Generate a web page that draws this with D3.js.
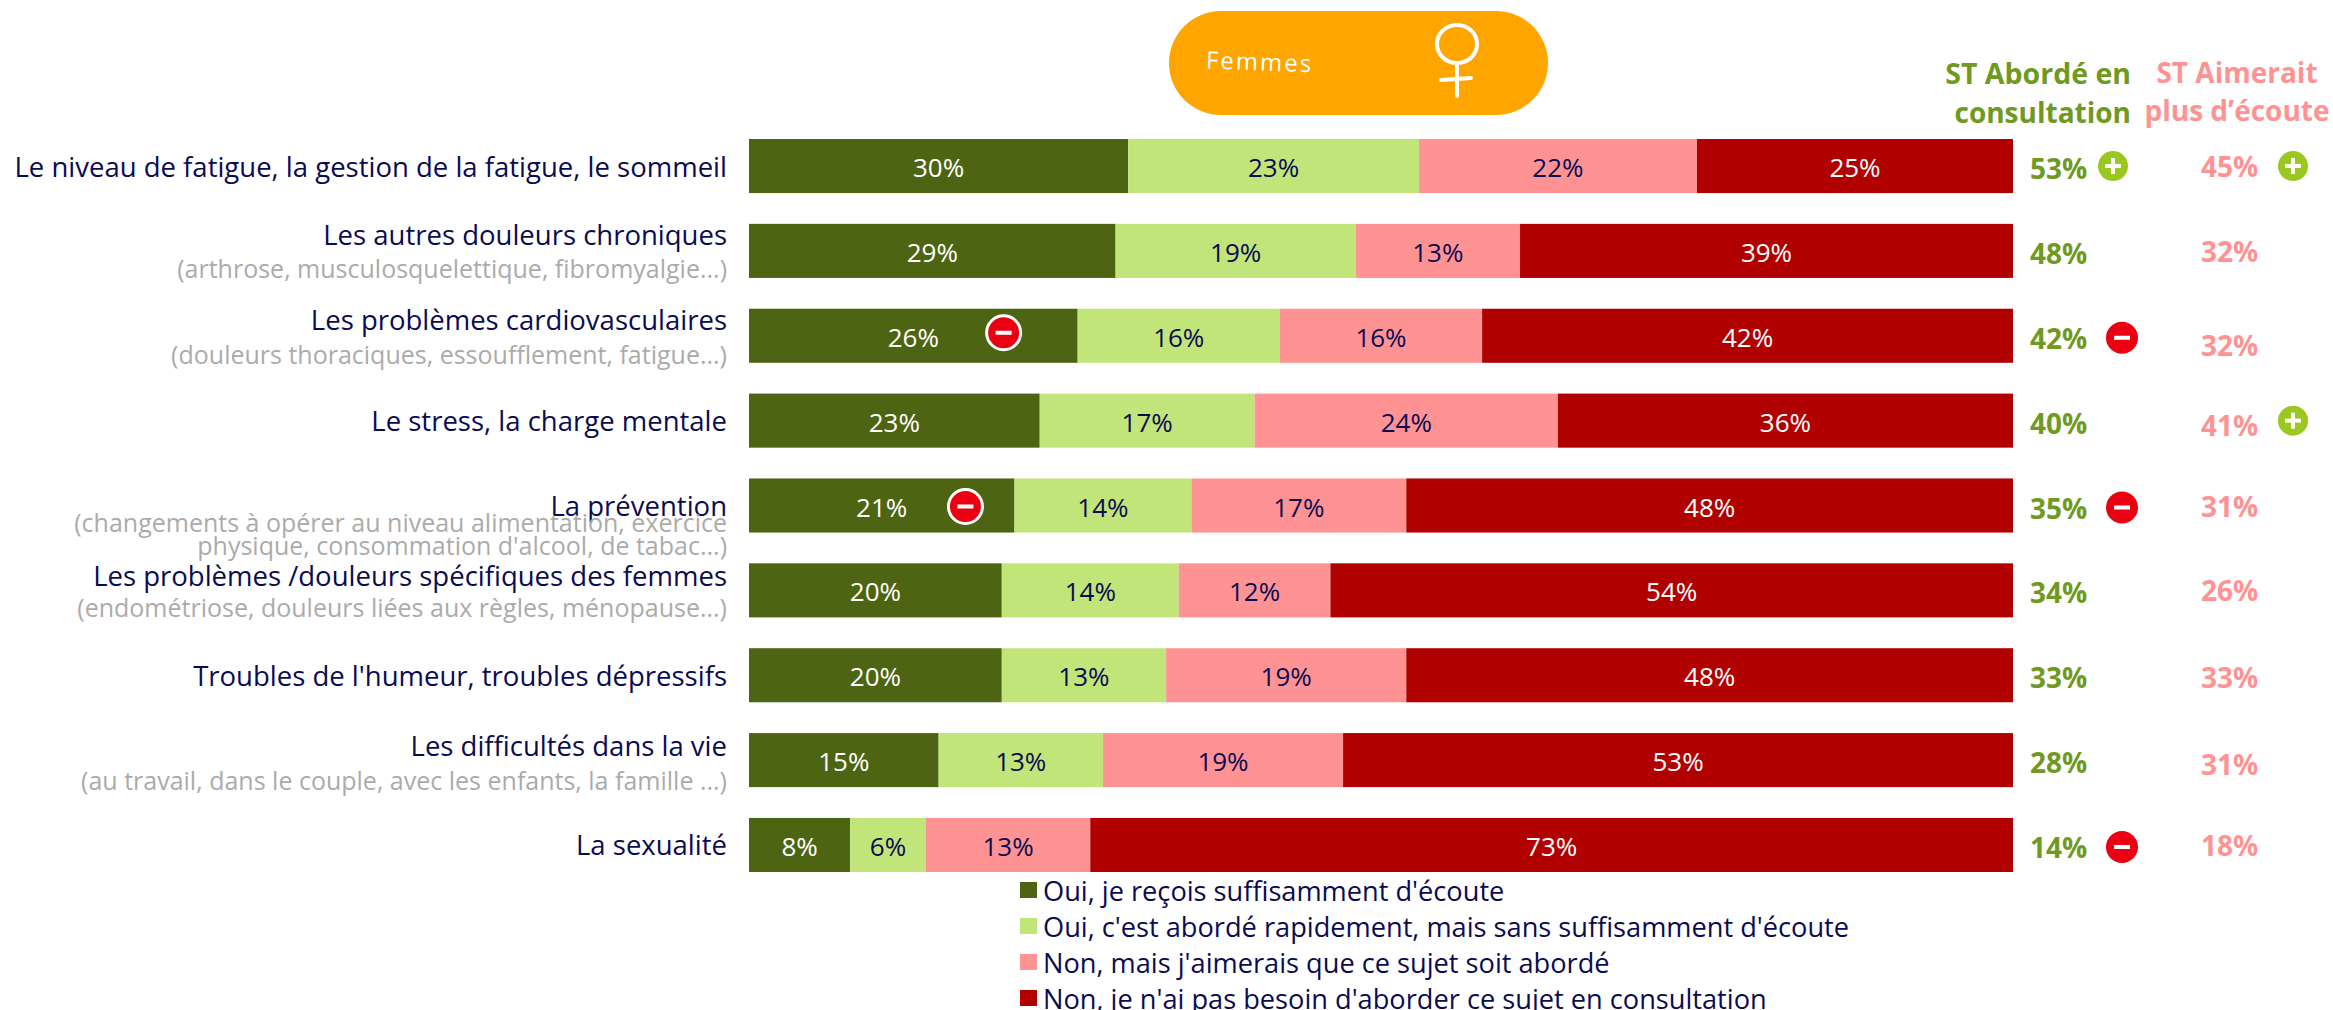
<!DOCTYPE html>
<html>
<head>
<meta charset="utf-8">
<script src="https://cdn.jsdelivr.net/npm/d3@7"></script>
<style>
  html, body { margin: 0; padding: 0; background: #fff; overflow: hidden; }
  svg text { font-family: "Open Sans", sans-serif; }
</style>
</head>
<body>
<div id="chart"></div>
<script>
const width = 2333;
const height = 1010;

const categories = [
  "Le niveau de fatigue, la gestion de la fatigue, le sommeil",
  "Les autres douleurs chroniques",
  "Les problèmes cardiovasculaires",
  "Le stress, la charge mentale",
  "La prévention",
  "Les problèmes /douleurs spécifiques des femmes",
  "Troubles de l'humeur, troubles dépressifs",
  "Les difficultés dans la vie",
  "La sexualité"
];
const subLabels = [
  [],
  ["(arthrose, musculosquelettique, fibromyalgie...)"],
  ["(douleurs thoraciques, essoufflement, fatigue...)"],
  [],
  ["(changements à opérer au niveau alimentation, exercice", "physique, consommation d'alcool, de tabac...)"],
  ["(endométriose, douleurs liées aux règles, ménopause...)"],
  [],
  ["(au travail, dans le couple, avec les enfants, la famille ...)"],
  []
];
const seriesNames = [
  "Oui, je reçois suffisamment d'écoute",
  "Oui, c'est abordé rapidement, mais sans suffisamment d'écoute",
  "Non, mais j'aimerais que ce sujet soit abordé",
  "Non, je n'ai pas besoin d'aborder ce sujet en consultation"
];
const ouiEcoute = [30, 29, 26, 23, 21, 20, 20, 15, 8];
const ouiRapide = [23, 19, 16, 17, 14, 14, 13, 13, 6];
const nonAimerais = [22, 13, 16, 24, 17, 12, 19, 19, 13];
const nonBesoin = [25, 39, 42, 36, 48, 54, 48, 53, 73];
const stAborde = [53, 48, 42, 40, 35, 34, 33, 28, 14];
const stAimerait = [45, 32, 32, 41, 31, 26, 33, 31, 18];
// significance flags, 1 = plus, -1 = minus, 0 = nothing
const flagAborde = [1, 0, -1, 0, -1, 0, 0, 0, -1];
const flagAimerait = [1, 0, 0, 1, 0, 0, 0, 0, 0];
const flagBar = [0, 0, -1, 0, -1, 0, 0, 0, 0];

const colors = ["#4d6412", "#c2e57a", "#ff9393", "#b00000"];
const textColors = ["#ffffff", "#0b0b52", "#0b0b52", "#ffffff"];
const navy = "#0b0b52";
const grey = "#ababab";
const olive = "#6f991f";
const pink = "#ff9393";

const table = categories.map((c, i) => ({
  name: c,
  s0: ouiEcoute[i],
  s1: ouiRapide[i],
  s2: nonAimerais[i],
  s3: nonBesoin[i]
}));

const svg = d3.select("#chart").append("svg")
  .attr("width", width)
  .attr("height", height)
  .attr("viewBox", [0, 0, width, height]);

// SCALES
const x = d3.scaleLinear().domain([0, 100]).range([749, 2013]);
const y = d3.scaleBand().domain(categories).range([139, 872]).paddingInner(0.363);

// BARS
const stacked = d3.stack().keys(["s0", "s1", "s2", "s3"])(table);

stacked.forEach((serie, k) => {
  const g = svg.append("g");
  g.selectAll("rect")
    .data(serie)
    .join("rect")
    .attr("x", d => x(d[0]))
    .attr("y", d => y(d.data.name))
    .attr("width", d => x(d[1]) - x(d[0]))
    .attr("height", y.bandwidth())
    .attr("fill", colors[k]);
  g.selectAll("text")
    .data(serie)
    .join("text")
    .attr("x", d => x((d[0] + d[1]) / 2))
    .attr("y", d => y(d.data.name) + y.bandwidth() / 2 + 1)
    .attr("text-anchor", "middle")
    .attr("dominant-baseline", "central")
    .attr("font-size", 26)
    .attr("fill", textColors[k])
    .text(d => (d[1] - d[0]) + "%");
});

// CATEGORY LABELS
const labelRight = 727;
const labelShift = [0, -16, -16, 0, 0, -15, 0, -15, 0];
const subShift = [[], [17], [18], [], [16, 39], [17], [], [20], []];

const rowCenter = i => y(categories[i]) + y.bandwidth() / 2;

categories.forEach((c, i) => {
  svg.append("text")
    .attr("x", labelRight)
    .attr("y", rowCenter(i) + labelShift[i])
    .attr("text-anchor", "end")
    .attr("dominant-baseline", "central")
    .attr("font-size", 27.5)
    .attr("fill", navy)
    .text(c);
  subLabels[i].forEach((line, j) => {
    svg.append("text")
      .attr("x", labelRight)
      .attr("y", rowCenter(i) + subShift[i][j])
      .attr("text-anchor", "end")
      .attr("dominant-baseline", "central")
      .attr("font-size", 25)
      .attr("fill", grey)
      .text(line);
  });
});

// RIGHT HAND COLUMNS
const aimeraitShift = [0, 0, 9, 4, 0, 0, 2, 4, 0];

svg.append("g").selectAll("text")
  .data(stAborde)
  .join("text")
  .attr("x", 2030)
  .attr("y", (d, i) => rowCenter(i) + 2)
  .attr("dominant-baseline", "central")
  .attr("font-size", 28)
  .attr("font-weight", 700)
  .attr("fill", olive)
  .text(d => d + "%");

svg.append("g").selectAll("text")
  .data(stAimerait)
  .join("text")
  .attr("x", 2201)
  .attr("y", (d, i) => rowCenter(i) + aimeraitShift[i])
  .attr("dominant-baseline", "central")
  .attr("font-size", 28)
  .attr("font-weight", 700)
  .attr("fill", pink)
  .text(d => d + "%");

// SIGNIFICANCE ICONS
function icon(cx, cy, sign, ring) {
  const g = svg.append("g").attr("transform", `translate(${cx},${cy})`);
  g.append("circle")
    .attr("r", ring ? 17 : (sign > 0 ? 15 : 16))
    .attr("fill", sign > 0 ? "#9ac820" : "#ea0010")
    .attr("stroke", ring ? "#fff" : "none")
    .attr("stroke-width", 3);
  g.append("rect").attr("x", -8).attr("y", -2).attr("width", 16).attr("height", 4).attr("fill", "#fff");
  if (sign > 0) {
    g.append("rect").attr("x", -2).attr("y", -8).attr("width", 4).attr("height", 16).attr("fill", "#fff");
  }
}
const barIconOffset = [0, 0, 74, 0, 49, 0, 0, 0, 0];

flagAborde.forEach((f, i) => { if (f) icon(f > 0 ? 2113 : 2122, rowCenter(i) + (f > 0 ? 0 : 2), f, false); });
flagAimerait.forEach((f, i) => { if (f) icon(2293, rowCenter(i), f, false); });
flagBar.forEach((f, i) => { if (f) icon(x(ouiEcoute[i]) - barIconOffset[i], rowCenter(i) + (i === 4 ? 1 : -3), f, true); });

// COLUMN HEADERS
[["ST Abordé en", 73, 28.5], ["consultation", 112, 28]].forEach(([t, yy, size]) => {
  svg.append("text")
    .attr("x", 2131).attr("y", yy)
    .attr("text-anchor", "end")
    .attr("dominant-baseline", "central")
    .attr("font-size", size).attr("font-weight", 700)
    .attr("fill", olive)
    .text(t);
});
[["ST Aimerait", 72], ["plus d’écoute", 110]].forEach(([t, yy]) => {
  svg.append("text")
    .attr("x", 2237).attr("y", yy)
    .attr("text-anchor", "middle")
    .attr("dominant-baseline", "central")
    .attr("font-size", 28).attr("font-weight", 700)
    .attr("fill", pink)
    .text(t);
});

// FEMMES BADGE
svg.append("rect")
  .attr("x", 1169).attr("y", 11)
  .attr("width", 379).attr("height", 104)
  .attr("rx", 52)
  .attr("fill", "#ffa500");
svg.append("text")
  .attr("transform", "translate(1206,59) rotate(2)")
  .attr("dominant-baseline", "central")
  .attr("font-size", 24)
  .attr("letter-spacing", 2)
  .attr("fill", "#fff")
  .text("Femmes");
const venus = svg.append("g")
  .attr("fill", "none").attr("stroke", "#fff").attr("stroke-width", 4).attr("stroke-linecap", "round");
venus.append("ellipse").attr("cx", 1457).attr("cy", 44).attr("rx", 20).attr("ry", 19);
venus.append("line").attr("x1", 1457).attr("y1", 63).attr("x2", 1457).attr("y2", 96);
venus.append("line").attr("x1", 1441).attr("y1", 80).attr("x2", 1471).attr("y2", 78);

// LEGEND
const legend = svg.append("g");
const legendY = d3.scalePoint().domain(seriesNames).range([890, 998]);

legend.selectAll("rect")
  .data(seriesNames)
  .join("rect")
  .attr("x", 1020)
  .attr("y", d => legendY(d) - 8)
  .attr("width", 17)
  .attr("height", 16)
  .attr("fill", (d, i) => colors[i]);

legend.selectAll("text")
  .data(seriesNames)
  .join("text")
  .attr("x", 1043)
  .attr("y", d => legendY(d))
  .attr("dominant-baseline", "central")
  .attr("font-size", 27.2)
  .attr("fill", navy)
  .text(d => d);
</script>
</body>
</html>
